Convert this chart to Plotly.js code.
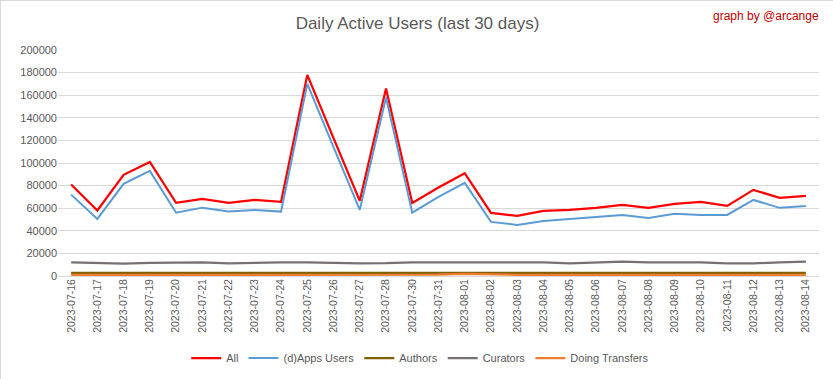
<!DOCTYPE html>
<html><head><meta charset="utf-8">
<script src="https://cdn.plot.ly/plotly-3.0.1.min.js"></script>
<style>html,body{margin:0;padding:0;background:#fff}#c{width:833px;height:379px;box-sizing:border-box;border:1px solid #d9d9d9}</style>
</head><body><div id="c"></div>
<script>
const dates = ["2023-07-16","2023-07-17","2023-07-18","2023-07-19","2023-07-20","2023-07-21","2023-07-22","2023-07-23","2023-07-24","2023-07-25","2023-07-26","2023-07-27","2023-07-28","2023-07-30","2023-07-31","2023-08-01","2023-08-02","2023-08-03","2023-08-04","2023-08-05","2023-08-06","2023-08-07","2023-08-08","2023-08-09","2023-08-10","2023-08-11","2023-08-12","2023-08-13","2023-08-14"];
const allUsers = [81000,58000,89500,101000,64700,68200,64700,67300,65600,178000,122000,66500,166000,64700,78300,91000,55800,53200,57600,58500,60300,62900,60300,63800,65600,62000,76200,69100,70900];
const appsUsers = [72000,50500,81500,93000,56000,60500,57000,58500,57000,170000,114000,58500,158000,56000,70000,82400,47900,45200,48700,50500,52300,54000,51400,55000,54000,54000,67300,60300,62000];
const authors = [2800,2800,2800,2800,2800,2800,2800,2800,2800,2800,2800,2800,2800,2800,2800,2800,2800,2800,2800,2800,2800,2800,2800,2800,2800,2800,2800,2800,2800];
const curators = [12000,11800,11000,11600,12000,12000,11200,11800,12000,12000,11300,11200,11300,12000,12000,12000,12000,12000,12000,11100,12000,12800,12000,12000,12000,11200,11200,12000,12800];
const transfers = [1000,1000,1000,1000,1000,1000,1000,1000,1000,1000,1000,1000,1000,1000,1200,1800,1100,1000,1000,1000,1000,1000,1000,1000,1000,1000,1000,1000,1000];
const yTicks = [0,20000,40000,60000,80000,100000,120000,140000,160000,180000,200000];

const font = {family:"Liberation Sans, Arial, sans-serif", color:"#595959", size:11};
const mk = (name, y, color, w) => ({type:"scatter", mode:"lines", name, x:dates, y, line:{color, width:w}, hoverinfo:"x+y"});
const traces = [
  mk("All", allUsers, "#ff0000", 2.25),
  mk("(d)Apps Users", appsUsers, "#5b9bd5", 2),
  mk("Authors", authors, "#7f6000", 2.25),
  mk("Curators", curators, "#757171", 2.25),
  mk("Doing Transfers", transfers, "#ed7d31", 2.25)
];
const layout = {
  width:833, height:379,
  margin:{l:57, r:15, t:49, b:104, autoexpand:false},
  paper_bgcolor:"#fff", plot_bgcolor:"#fff",
  font,
  title:{text:"Daily Active Users (last 30 days)", font:{family:font.family, size:17, color:"#595959"}, x:0.5, xanchor:"center", y:0.942, yanchor:"middle"},
  xaxis:{type:"category", range:[-0.5, dates.length-0.5], tickangle:-90, automargin:false, showgrid:false, zeroline:false, showline:false, ticks:"", ticklen:0, tickfont:{size:10.5, color:"#595959"}, fixedrange:true},
  yaxis:{range:[0,200000], tickvals:yTicks, ticktext:yTicks.map(String), automargin:false, showgrid:true, gridcolor:"#d9d9d9", gridwidth:1, zeroline:true, zerolinecolor:"#d9d9d9", showline:false, ticks:"", tickfont:{size:11, color:"#595959"}, fixedrange:true},
  legend:{orientation:"h", x:0.476, xanchor:"center", y:-0.363, yanchor:"middle", font:{size:11, color:"#595959"}, traceorder:"normal"},
  showlegend:true,
  annotations:[{text:"graph by @arcange", xref:"paper", yref:"paper", x:1.003, xanchor:"right", y:1.15, yanchor:"middle", showarrow:false, font:{family:font.family, size:12, color:"#c00000"}}]
};
Plotly.newPlot("c", traces, layout, {displayModeBar:false, staticPlot:true});
</script></body></html>
